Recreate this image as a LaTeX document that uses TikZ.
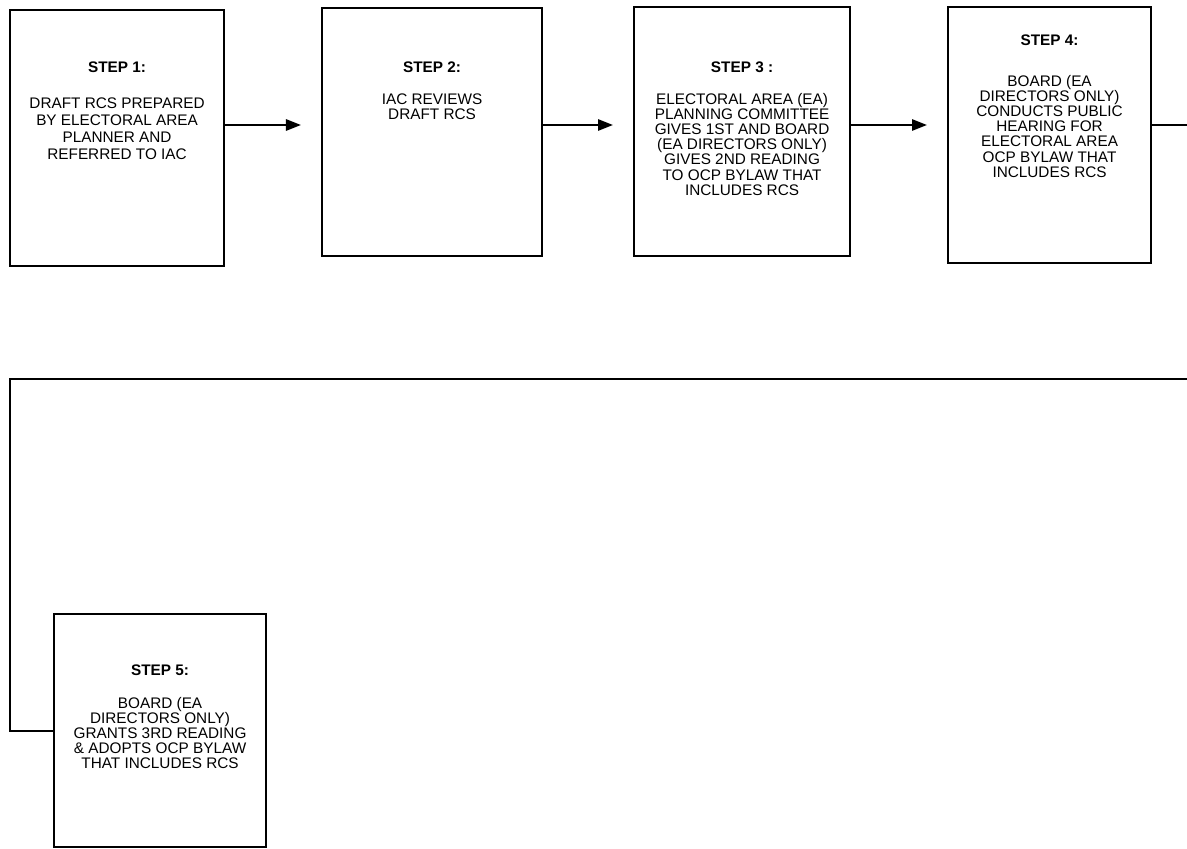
\documentclass[tikz,border=0pt]{standalone}
\usepackage{fontspec}
\newfontfamily\flowfont{Liberation Sans}
\usepackage{tikz}
\usetikzlibrary{arrows.meta, positioning}

\newdimen\pxu
\pxu=0.025cm

\begin{document}
\begin{tikzpicture}[
  x=\pxu, y=-\pxu,
  stage/.style={
    draw, line width=1.5pt, anchor=north west, inner sep=0pt
  },
  steptext/.style={
    inner sep=0pt, anchor=north, align=center,
    font=\flowfont\fontsize{10.9}{10.8}\selectfont
  },
  arr/.style={-{Triangle[length=0.375cm, width=0.28cm]}, line width=1.5pt,
    shorten >=0.5cm},
  link/.style={line width=1.5pt}
]
\useasboundingbox (0,0) rectangle (1187,848);

% Boxes
\node[stage, minimum width=214\pxu, minimum height=256\pxu] (step1) at (9,9) {};
\node[stage, minimum width=220\pxu, minimum height=248\pxu] (step2) at (321,7) {};
\node[stage, minimum width=216\pxu, minimum height=249\pxu] (step3) at (633,6) {};
\node[stage, minimum width=203\pxu, minimum height=256\pxu] (step4) at (947,6) {};
\node[stage, minimum width=212\pxu, minimum height=233\pxu] (step5) at (53,613) {};

% Box texts
\node[steptext, font=\flowfont\fontsize{10.9}{12}\selectfont,
  below=53\pxu of step1.north] (step1txt) {
  \textbf{STEP 1:} \\[19\pxu]
  DRAFT RCS PREPARED \\
  BY ELECTORAL AREA \\
  PLANNER AND \\
  REFERRED TO IAC
};
\node[steptext, below=55\pxu of step2.north] (step2txt) {
  \textbf{STEP 2:} \\[16\pxu]
  IAC REVIEWS \\
  DRAFT RCS
};
\node[steptext, below=56\pxu of step3.north] (step3txt) {
  \textbf{STEP 3 :} \\[16\pxu]
  ELECTORAL AREA (EA) \\
  PLANNING COMMITTEE \\
  GIVES 1ST AND BOARD \\
  (EA DIRECTORS ONLY) \\
  GIVES 2ND READING \\
  TO OCP BYLAW THAT \\
  INCLUDES RCS
};
\node[steptext, below=29\pxu of step4.north] (step4txt) {
  \textbf{STEP 4:} \\[25\pxu]
  BOARD (EA \\
  DIRECTORS ONLY) \\
  CONDUCTS PUBLIC \\
  HEARING FOR \\
  ELECTORAL AREA \\
  OCP BYLAW THAT \\
  INCLUDES RCS
};
\node[steptext, below=52\pxu of step5.north] (step5txt) {
  \textbf{STEP 5:} \\[17\pxu]
  BOARD (EA \\
  DIRECTORS ONLY) \\
  GRANTS 3RD READING \\
  \& ADOPTS OCP BYLAW \\
  THAT INCLUDES RCS
};

% Connectors
\coordinate (lane) at (0,125);
\coordinate (edge) at (1200,379);
\coordinate (ret) at (10,379);

\draw[arr] (step1.east |- lane) -- (step2.west |- lane);
\draw[arr] (step2.east |- lane) -- (step3.west |- lane);
\draw[arr] (step3.east |- lane) -- (step4.west |- lane);
\draw[link] (step4.east |- lane) -- (edge |- lane) -- (edge) -- (ret) |- (step5.west);

\end{tikzpicture}
\end{document}
